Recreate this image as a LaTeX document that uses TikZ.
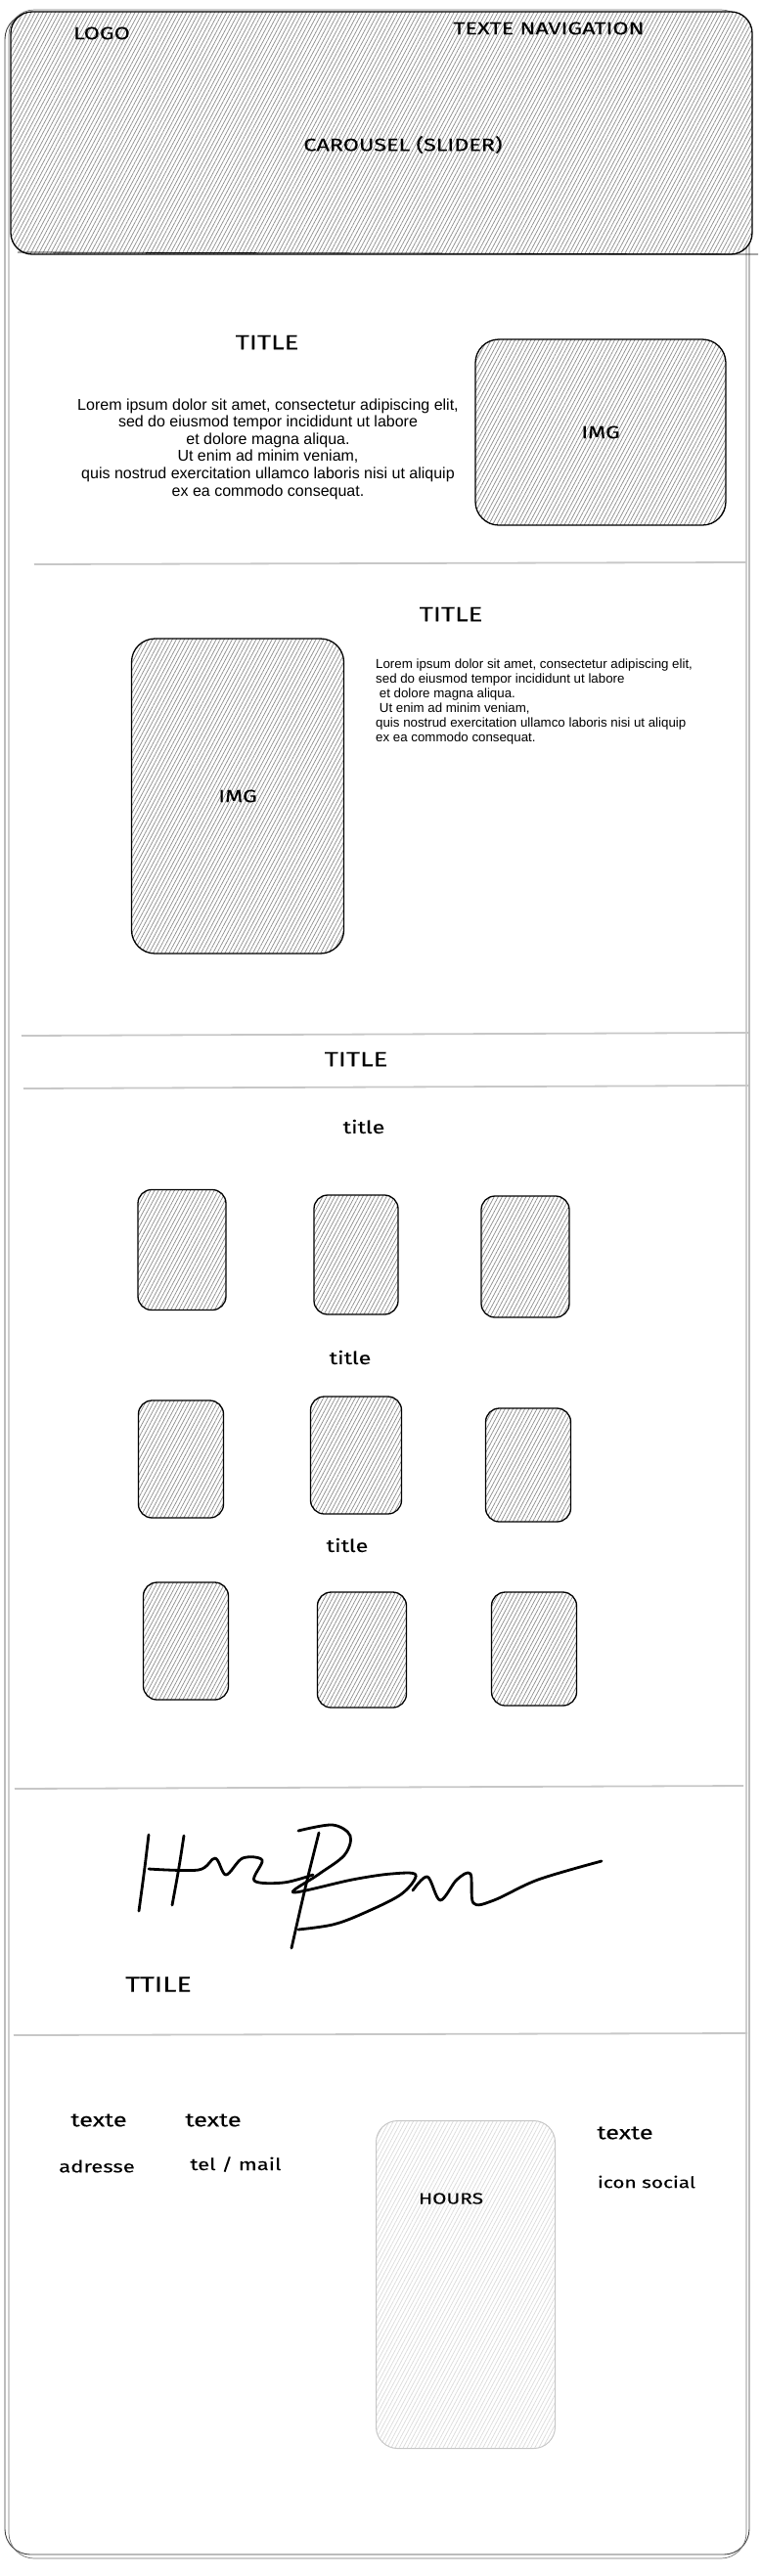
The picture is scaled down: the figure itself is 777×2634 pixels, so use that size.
\documentclass[tikz,border=0pt]{standalone}
\usepackage{fontspec}
\setmainfont{Fira Sans}
\newfontfamily\handfont[FakeStretch=1.3, FakeBold=0.1]{Fira Sans}
\newfontfamily\loremfont{Liberation Sans}
\usetikzlibrary{positioning, patterns.meta, calc}

\begin{document}
\begin{tikzpicture}[x=1pt, y=-1pt,
    frame/.style={draw=black!75, line width=0.9pt, rounded corners=26pt},
    hatch/.style={draw, line width=1.3pt, rounded corners=16pt, preaction={fill=white},
        pattern={Lines[angle=62, distance=3.6pt, line width=0.7pt]}, pattern color=black!45,
        font=\handfont\fontsize{18}{20}\selectfont},
    card/.style={hatch, rounded corners=14pt},
    hours/.style={hatch, draw=black!22, line width=1pt, pattern color=black!14, rounded corners=22pt},
    sep/.style={draw=black!22, line width=1.8pt},
    lbl/.style={font=\handfont\fontsize{18}{20}\selectfont, inner sep=0pt},
    small/.style={font=\handfont\fontsize{16}{18}\selectfont, inner sep=0pt},
    lorem/.style={font=\loremfont\fontsize{16}{17.6}\selectfont, align=center, inner sep=0pt},
    sig/.style={line width=2.8pt, line cap=round, line join=round}
]
    \useasboundingbox (0,0) rectangle (777,2634);

    % page frame
    \draw[frame] (5,14) rectangle (766,2612);
    \draw[frame, draw=black!55, line width=0.7pt] (9,10) rectangle (763,2616);

    % header
    \node[hatch, minimum width=758pt, minimum height=248pt, rounded corners=22pt] (carousel) at (390,136) {};
    \draw[line width=0.8pt] (18,258) -- (775,260);
    \node[lbl] (logo) at (104,34) {LOGO};
    \node[lbl] (nav) at (561,29) {TEXTE NAVIGATION};
    \node[lbl] (slider) at (412,148) {CAROUSEL (SLIDER)};

    % section 1
    \node[lbl, font=\handfont\fontsize{21}{23}\selectfont] (title1) at (273,350) {TITLE};
    \node[lorem] (text1) at (274,459) {Lorem ipsum dolor sit amet, consectetur adipiscing elit,\\
        sed do eiusmod tempor incididunt ut labore\\ et dolore magna aliqua.\\
        Ut enim ad minim veniam,\\ quis nostrud exercitation ullamco laboris nisi ut aliquip\\
        ex ea commodo consequat.};
    \node[hatch, minimum width=256pt, minimum height=190pt, rounded corners=24pt] (img1) at (614,442) {IMG};
    \draw[sep] (35,577) -- (763,575);

    % section 2
    \node[lbl, font=\handfont\fontsize{21}{23}\selectfont] (title2) at (461,628) {TITLE};
    \node[hatch, minimum width=217pt, minimum height=322pt, rounded corners=24pt] (img2) at (243,814) {IMG};
    \node[lorem, font=\loremfont\fontsize{13.3}{15}\selectfont, align=left, anchor=north west] (text2) at (384,674)
        {Lorem ipsum dolor sit amet, consectetur adipiscing elit,\\
        sed do eiusmod tempor incididunt ut labore\\ \ et dolore magna aliqua.\\
        \ Ut enim ad minim veniam,\\ quis nostrud exercitation ullamco laboris nisi ut aliquip\\
        ex ea commodo consequat.};

    % section 3
    \draw[sep] (22,1059) -- (765,1056);
    \node[lbl, font=\handfont\fontsize{21}{23}\selectfont] (title3) at (364,1083) {TITLE};
    \draw[sep] (24,1113) -- (765,1110);
    \node[lbl] (sub1) at (372,1152) {title};
    \node[lbl] (sub2) at (358,1388) {title};
    \node[lbl] (sub3) at (355,1580) {title};
    \foreach \n/\x/\y/\w/\h in {c11/186/1278/90/123, c12/364/1283/86/122, c13/537/1285/90/124,
                                c21/185/1492/87/120, c22/364/1488/93/120, c23/540/1498/87/116,
                                c31/190/1678/87/120, c32/370/1687/91/118, c33/546/1686/87/116}
        \node[card, minimum width=\w pt, minimum height=\h pt] (\n) at (\x,\y) {};

    % signature
    \draw[sep] (15,1829) -- (760,1826);
    \draw[sig] (152,1876) .. controls (148,1910) .. (142,1954);
    \draw[sig] (188,1877) .. controls (183,1910) .. (176,1948);
    \draw[sig] plot[smooth, tension=0.55] coordinates {(152,1911) (203,1912) (220,1900) (231,1917)
        (248,1900) (268,1902) (260,1923) (290,1925) (320,1917)};
    \draw[sig] (326,1874) .. controls (312,1930) .. (298,1992);
    \draw[sig] plot[smooth, tension=0.55] coordinates {(305,1872) (340,1866) (358,1877) (352,1897)
        (325,1917) (300,1935) (360,1922) (400,1916) (425,1917) (410,1937) (370,1957) (340,1968) (305,1973)};
    \draw[sig] plot[smooth, tension=0.55] coordinates {(422,1933) (437,1919) (450,1943) (467,1922)
        (481,1916) (484,1946) (505,1943) (550,1922) (615,1903)};
    \node[lbl, font=\handfont\fontsize{22}{24}\selectfont] (ttile) at (162,2029) {TTILE};
    \draw[sep] (14,2081) -- (764,2079);

    % footer
    \node[lbl, font=\handfont\fontsize{19.5}{21}\selectfont] (texte1) at (101,2168) {texte};
    \node[lbl, font=\handfont\fontsize{19.5}{21}\selectfont] (texte2) at (218,2168) {texte};
    \node[lbl, font=\handfont\fontsize{17}{19}\selectfont] (adresse) at (99,2215) {adresse};
    \node[lbl, font=\handfont\fontsize{17}{19}\selectfont] (contact) at (241,2213) {tel / mail};
    \node[hours, minimum width=183pt, minimum height=335pt] (hoursbox) at (476,2336) {};
    \node[small] (hourslbl) at (461,2248) {HOURS};
    \node[lbl, font=\handfont\fontsize{19.5}{21}\selectfont] (texte3) at (639,2181) {texte};
    \node[small] (social) at (661,2231) {icon social};
\end{tikzpicture}
\end{document}
